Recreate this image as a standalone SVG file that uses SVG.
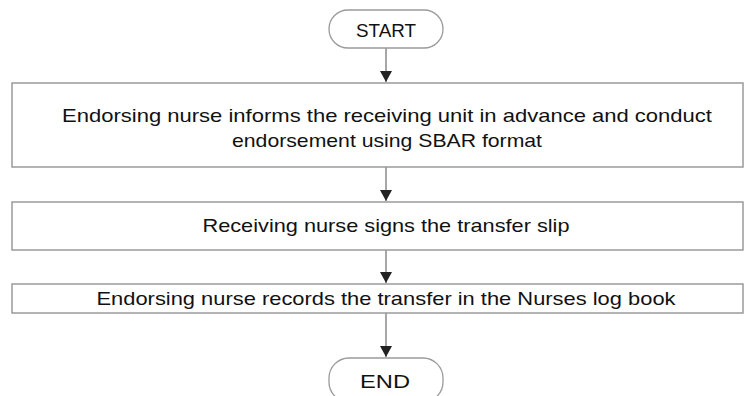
<svg xmlns="http://www.w3.org/2000/svg" width="745" height="396" viewBox="0 0 745 396">
<defs>
<style>
.box{fill:#fff;stroke:#9a9a9a;stroke-width:1.5}
.term{fill:#fff;stroke:#9a9a9a;stroke-width:1.3}
.t{font-family:"Liberation Sans",Arial,sans-serif;font-size:19px;fill:#111;text-anchor:middle}
.c{stroke:#777;stroke-width:1.3;fill:none;marker-end:url(#ah)}
</style>
<marker id="ah" markerWidth="12" markerHeight="12" refX="11" refY="6" orient="auto" markerUnits="userSpaceOnUse">
<path d="M0,0 L11,6 L0,12 Z" fill="#222"/>
</marker>
</defs>
<rect width="745" height="396" fill="#fff"/>
<g id="connectors">
<line class="c" x1="386" y1="48" x2="386" y2="82"/>
<line class="c" x1="386" y1="167" x2="386" y2="201"/>
<line class="c" x1="386" y1="250" x2="386" y2="283"/>
<line class="c" x1="386" y1="313" x2="386" y2="357"/>
</g>
<g id="start">
<rect class="term" x="329" y="10" width="114" height="38" rx="19"/>
<text class="t" x="386" y="37" textLength="60" lengthAdjust="spacingAndGlyphs">START</text>
</g>
<g id="step1">
<rect class="box" x="12" y="83" width="731" height="84"/>
<text class="t" x="387" y="122" textLength="650" lengthAdjust="spacingAndGlyphs">Endorsing nurse informs the receiving unit in advance and conduct</text>
<text class="t" x="387" y="147" textLength="310" lengthAdjust="spacingAndGlyphs">endorsement using SBAR format</text>
</g>
<g id="step2">
<rect class="box" x="12" y="202" width="731" height="48"/>
<text class="t" x="386" y="232" textLength="367" lengthAdjust="spacingAndGlyphs">Receiving nurse signs the transfer slip</text>
</g>
<g id="step3">
<rect class="box" x="12" y="284" width="731" height="29"/>
<text class="t" x="386" y="305" textLength="579" lengthAdjust="spacingAndGlyphs">Endorsing nurse records the transfer in the Nurses log book</text>
</g>
<g id="end">
<rect class="term" x="329" y="358" width="114" height="44" rx="20"/>
<text class="t" x="385" y="388" textLength="50" lengthAdjust="spacingAndGlyphs">END</text>
</g>
</svg>
